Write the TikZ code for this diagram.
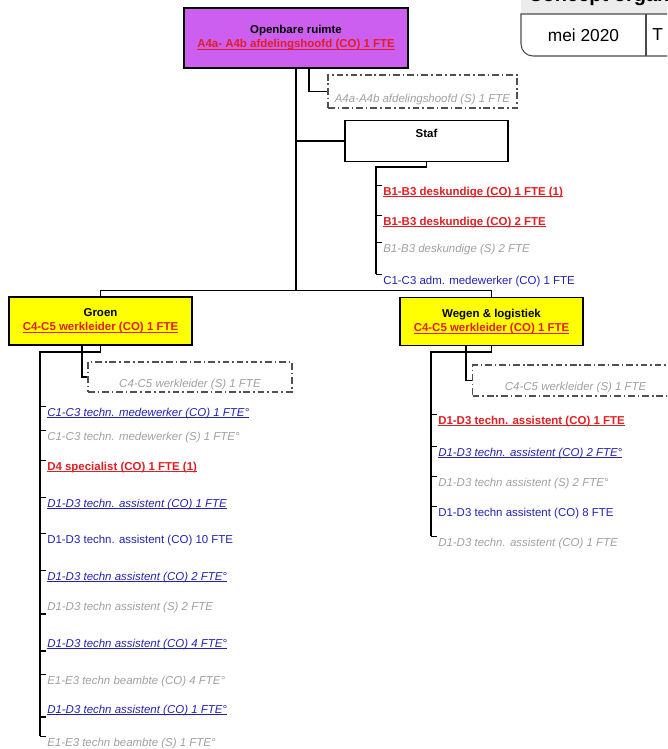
\documentclass[tikz,border=0pt]{standalone}
\usepackage{fontspec}
\setmainfont{Liberation Sans}
\usepackage{tikz}
\usetikzlibrary{positioning}

\definecolor{rood}{RGB}{225,30,35}
\definecolor{blauw}{RGB}{35,35,175}
\definecolor{grijs}{RGB}{160,160,160}
\definecolor{paars}{RGB}{205,95,240}
\definecolor{geel}{RGB}{255,255,0}
\definecolor{streep}{RGB}{80,80,80}

\newsavebox{\onderbox}
\newcommand{\onder}[1]{\sbox\onderbox{#1}\rlap{\rule[-1.5pt]{\wd\onderbox}{0.55pt}}\usebox\onderbox}
\newcommand{\cobold}[1]{\textcolor{rood}{\onder{\textbf{#1}}}}
\newcommand{\covac}[1]{\textcolor{blauw}{\onder{\textit{#1}}}}
\newcommand{\coblauw}[1]{\textcolor{blauw}{#1}}
\newcommand{\sgrijs}[1]{\textcolor{grijs}{\textit{#1}}}

\begin{document}
\begin{tikzpicture}[x=0.75pt,y=0.75pt,yscale=-1,xscale=1,
    font=\fontsize{8.6}{10.5}\selectfont,
    eenheid/.style={draw, line width=0.9pt, align=center, inner sep=0pt},
    vacbox/.style={draw=streep, line width=1.1pt, dash pattern={on 5pt off 2.2pt on 1.2pt off 2.2pt},
        inner sep=0pt, text height=18.75pt, text depth=3.75pt},
    lijn/.style={line width=1pt},
    item/.style={anchor=base west, inner sep=0.75pt}]
    \useasboundingbox (0,0) rectangle (667,749);
    \clip (0,0) rectangle (667,749);

    % title block, top right (cut off)
    \fill[gray!15] (521,-10) rectangle (700,14);
    \node[anchor=base west, inner sep=0pt, font=\fontsize{15}{18}\selectfont\bfseries] (kop) at (528,2) {Concept organogram};
    \draw[black!70, line width=0.8pt] (700,14) -- (521,14) -- (521,40) [rounded corners=9pt] -- (521,56) -- (700,56);
    \draw[black!70, line width=0.8pt] (646,14) -- (646,56);
    \node[font=\fontsize{13}{15}\selectfont] (datum) at (583.5,35) {mei 2020};
    \node[anchor=west, inner sep=0pt, font=\fontsize{13}{15}\selectfont] (titel) at (652,35) {T};

    % units
    \node[eenheid, fill=paars, minimum width=168pt, minimum height=45pt] (top) at (296,38)
        {\textbf{Openbare ruimte}\\\cobold{A4a- A4b afdelingshoofd (CO) 1 FTE}};
    \node[vacbox, minimum width=141.75pt, minimum height=24.75pt, text height=21pt] (vacA) at (422.5,91.5)
        {\sgrijs{A4a-A4b afdelingshoofd (S) 1 FTE}};
    \node[eenheid, fill=white, anchor=north, minimum width=122.25pt, minimum height=30.75pt,
        text height=13pt, text depth=17.75pt] (staf) at (426.5,120) {\textbf{Staf}};
    \node[eenheid, fill=geel, minimum width=137.25pt, minimum height=36pt] (groen) at (100.5,321)
        {\textbf{Groen}\\\cobold{C4-C5 werkleider (CO) 1 FTE}};
    \node[eenheid, fill=geel, minimum width=137.25pt, minimum height=36pt] (wegen) at (491.5,321.5)
        {\textbf{Wegen \& logistiek}\\\cobold{C4-C5 werkleider (CO) 1 FTE}};
    \node[vacbox, minimum width=153pt, minimum height=22.5pt] (vacG) at (190,377)
        {\sgrijs{C4-C5 werkleider (S) 1 FTE}};
    \node[vacbox, anchor=west, minimum width=154.5pt, minimum height=23.25pt] (vacW) at (472,380.5)
        {\sgrijs{C4-C5 werkleider (S) 1 FTE}};

    % staf
    \node[item] (s1) at (382,195) {\cobold{B1-B3 deskundige (CO) 1 FTE (1)}};
    \node[item] (s2) at (382,225) {\cobold{B1-B3 deskundige (CO) 2 FTE}};
    \node[item] (s3) at (382,252) {\sgrijs{B1-B3 deskundige (S) 2 FTE}};
    \node[item] (s4) at (382,284) {\coblauw{C1-C3 adm. medewerker (CO) 1 FTE}};

    % groen
    \node[item] (g1) at (46,416) {\covac{C1-C3 techn. medewerker (CO) 1 FTE°}};
    \node[item] (g2) at (46,440) {\sgrijs{C1-C3 techn. medewerker (S) 1 FTE°}};
    \node[item] (g3) at (46,470) {\cobold{D4 specialist (CO) 1 FTE (1)}};
    \node[item] (g4) at (46,507) {\covac{D1-D3 techn. assistent (CO) 1 FTE}};
    \node[item] (g5) at (46,543) {\coblauw{D1-D3 techn. assistent (CO) 10 FTE}};
    \node[item] (g6) at (46,580) {\covac{D1-D3 techn assistent (CO) 2 FTE°}};
    \node[item] (g7) at (46,610) {\sgrijs{D1-D3 techn assistent (S) 2 FTE}};
    \node[item] (g8) at (46,647) {\covac{D1-D3 techn assistent (CO) 4 FTE°}};
    \node[item] (g9) at (46,684) {\sgrijs{E1-E3 techn beambte (CO) 4 FTE°}};
    \node[item] (g10) at (46,713) {\covac{D1-D3 techn assistent (CO) 1 FTE°}};
    \node[item] (g11) at (46,746) {\sgrijs{E1-E3 techn beambte (S) 1 FTE°}};

    % wegen & logistiek
    \node[item] (w1) at (437,424) {\cobold{D1-D3 techn. assistent (CO) 1 FTE}};
    \node[item] (w2) at (437,456) {\covac{D1-D3 techn. assistent (CO) 2 FTE°}};
    \node[item] (w3) at (437,486) {\sgrijs{D1-D3 techn assistent (S) 2 FTE°}};
    \node[item] (w4) at (437,516) {\coblauw{D1-D3 techn assistent (CO) 8 FTE}};
    \node[item] (w5) at (437,546) {\sgrijs{D1-D3 techn. assistent (CO) 1 FTE}};

    % lines
    \coordinate (bus) at (296,291);
    \coordinate (stafas) at (376,167);
    \coordinate (groenas) at (40,352);
    \coordinate (wegenas) at (431,352);

    \draw[lijn] (top.south) -- (bus);
    \draw[lijn] (groen.north) -- ++(0,-6) -| (wegen.north);
    \draw[lijn] ([xshift=9.75pt]top.south) |- (vacA.west);
    \draw[lijn] (top.south |- staf.west) -- (staf.west);

    \draw[lijn] (staf.south) |- (stafas) -- (stafas |- s4.north west);
    \foreach \n in {s1,s2,s3,s4}
        \draw[lijn] (stafas |- \n.north west) -- (\n.north west);

    \draw[lijn] (groen.south) |- (groenas) -- (groenas |- g11.north west);
    \draw[lijn] ([xshift=-13.9pt]groen.south) |- (vacG.west);
    \foreach \n in {g1,g2,g3,g4,g5,g6,g9,g11}
        \draw[lijn] (groenas |- \n.north west) -- (\n.north west);
    \foreach \n in {g7,g8,g10}
        \draw[lijn] ([yshift=3pt]\n.base west) -- ++(-6,0);

    \draw[lijn] (wegen.south) |- (wegenas) -- (wegenas |- w5.north west);
    \draw[lijn] ([xshift=-19.1pt]wegen.south) |- (vacW.west);
    \foreach \n in {w1,w2,w3,w4,w5}
        \draw[lijn] (wegenas |- \n.north west) -- (\n.north west);
\end{tikzpicture}
\end{document}
